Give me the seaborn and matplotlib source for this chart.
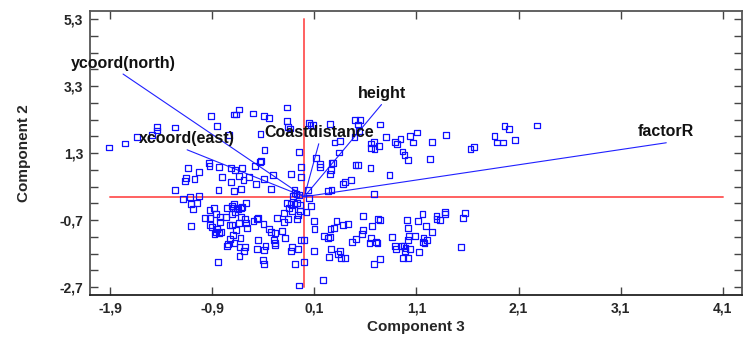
import numpy as np
import pandas as pd
import matplotlib
matplotlib.use("Agg")
import matplotlib.pyplot as plt
import seaborn as sns
from matplotlib.ticker import FixedLocator, FuncFormatter

# ---------------- data ----------------
comp3 = [
    # upper-left
    -1.917, -1.756, -1.642, -1.488, -1.439, -1.439, -1.270, -0.917, -0.854, -0.687,
    -0.665, -0.638, -0.505, -0.393, -0.344, -0.168, -0.168, -0.158, -0.142, -0.736,
    -0.429, -0.390, -0.420, -0.432, -0.485, -0.309, -0.054, -0.030, -0.132, -0.034,
    -0.936, -0.929, -0.834, -1.142, -1.034, -1.158, -1.172, -1.076, -0.717, -0.681,
    -0.606, -0.802, -0.638, -0.596, -0.540, -0.397, -0.475, -0.328, -0.721, -0.841,
    -0.691, -0.623, -1.263, -0.096, -1.030, -0.076, -0.050, -0.096,
    # lower-left
    -1.191, -1.116, -1.113, -1.050, -1.093, -1.106, -0.929, -0.883, -0.975, -0.920,
    -0.861, -0.825, -0.770, -0.822, -0.920, -0.900, -0.854, -0.861, -0.838, -0.880,
    -0.819, -0.733, -0.711, -0.760, -0.707, -0.687, -0.701, -0.658, -0.645, -0.681,
    -0.707, -0.619, -0.570, -0.606, -0.638, -0.623, -0.579, -0.574, -0.560, -0.672,
    -0.701, -0.724, -0.684, -0.750, -0.760, -0.625, -0.635, -0.583, -0.593, -0.635,
    -0.848, -0.498, -0.456, -0.462, -0.400, -0.344, -0.322, -0.289, -0.270, -0.456,
    -0.380, -0.462, -0.397, -0.299, -0.289, -0.285, -0.191, -0.214, -0.201, -0.158,
    -0.201, -0.168, -0.135, -0.096, -0.070, -0.044, -0.148, -0.119, -0.044, -0.064,
    -0.070, -0.109, -0.119, -0.132, -0.064, -0.034, -0.001, -0.093, -0.005, -0.054,
    -0.407, -0.397,
    # upper-right
    0.044, 0.061, 0.087, 0.250, 0.495, 0.544, 0.531, 0.740, 0.534, 0.296,
    0.348, 0.492, 0.799, 0.656, 0.681, 0.734, 0.656, 0.688, 0.891, 0.911,
    0.943, 1.038, 1.103, 1.064, 0.963, 0.982, 1.019, 1.250, 1.387, 1.230,
    0.117, 0.152, 0.152, 0.267, 0.279, 0.342, 0.260, 0.250, 0.502, 0.525,
    0.649, 0.835, 0.401, 0.377, 0.456, 0.234, 0.267, 0.034, 0.681, 1.629,
    1.662, 1.865, 1.891, 1.946, 1.963, 2.005, 2.068, 2.283,
    # lower-right
    0.044, 0.064, 0.022, 0.093, 0.100, 0.093, 0.181, 0.316, 0.377, 0.426,
    0.257, 0.289, 0.191, 0.230, 0.250, 0.260, 0.240, 0.332, 0.352, 0.358,
    0.397, 0.470, 0.505, 0.564, 0.577, 0.574, 0.666, 0.721, 0.740, 0.656,
    0.639, 0.701, 0.718, 0.740, 0.685, 0.862, 0.891, 0.901, 0.953, 0.973,
    0.992, 0.989, 1.034, 1.015, 1.028, 1.083, 1.009, 1.015, 1.113, 1.159,
    1.195, 1.252, 1.296, 1.296, 1.328, 1.377, 1.377, 1.574, 1.556, 1.538,
    1.123, 1.162, 1.178, 1.205, 1.169, 0.966, 1.015,
]
comp2 = [
    # upper-left
    1.470, 1.589, 1.777, 1.836, 2.074, 1.976, 2.065, 2.411, 2.104, 2.452,
    2.452, 2.601, 2.482, 2.411, 2.342, 2.661, 2.262, 2.074, 2.036, 1.836,
    1.866, 1.381, 1.071, 1.042, 0.905, 0.646, 1.330, 0.875, 0.676, 0.595,
    1.003, 0.905, 0.875, 0.845, 0.735, 0.548, 0.467, 0.536, 0.854, 0.795,
    0.863, 0.586, 0.616, 0.488, 0.595, 0.518, 0.369, 0.220, 0.438, 0.208,
    0.179, 0.220, 0.199, 0.199, 0.030, 0.071, 0.060, 0.101,
    # lower-left
    -0.077, -0.018, -0.226, -0.196, -0.375, -0.872, -0.396, -0.345, -0.625, -0.643,
    -0.524, -0.595, -0.613, -0.744, -0.833, -0.911, -0.961, -1.042, -1.071, -1.101,
    -1.042, -0.842, -0.842, -0.327, -0.268, -0.217, -0.345, -0.327, -0.375, -0.446,
    -0.506, -0.336, -0.196, -0.298, -0.792, -0.595, -0.673, -0.774, -0.932, -0.991,
    -1.149, -1.250, -1.369, -1.399, -1.467, -1.238, -1.488, -1.497, -1.607, -1.774,
    -1.943, -0.732, -0.634, -0.664, -0.821, -0.961, -1.042, -1.071, -0.625, -1.298,
    -1.458, -1.557, -1.586, -1.298, -1.387, -1.438, -1.238, -1.021, -0.762, -0.673,
    -0.485, -0.196, -0.217, -0.226, -0.179, -0.238, -0.345, -0.417, -0.417, -0.545,
    -0.655, 0.021, -1.488, -1.607, -1.565, -1.298, -1.298, -2.003, -1.943, -2.649,
    -1.893, -2.003,
    # upper-right
    2.202, 2.134, 2.134, 2.164, 2.283, 2.283, 2.155, 2.155, 1.964, 1.619,
    1.667, 1.786, 1.777, 1.589, 1.637, 1.509, 1.449, 1.411, 1.637, 1.560,
    1.717, 1.807, 1.917, 1.619, 1.351, 1.241, 1.083, 1.637, 1.836, 1.131,
    1.143, 0.973, 0.893, 1.012, 1.012, 1.321, 0.795, 0.676, 0.952, 0.935,
    0.845, 0.646, 0.446, 0.378, 0.497, 0.179, 0.199, 0.199, 0.080, 1.420,
    1.488, 1.807, 1.619, 1.619, 2.104, 2.015, 1.688, 2.125,
    # lower-right
    -0.048, -0.277, -0.464, -0.732, -0.961, -1.607, -2.479, -0.732, -0.842, -0.813,
    -0.961, -0.932, -1.179, -1.229, -1.208, -1.548, -1.804, -1.714, -1.607, -1.824,
    -1.824, -1.348, -1.250, -1.119, -0.991, -0.565, -0.872, -0.664, -0.693, -1.238,
    -1.378, -1.348, -1.378, -1.863, -2.003, -1.208, -1.467, -1.557, -1.467, -1.467,
    -1.518, -1.616, -1.557, -1.298, -1.179, -1.179, -0.693, -0.940, -0.732, -0.506,
    -0.872, -1.042, -0.583, -0.673, -0.693, -0.446, -0.515, -0.476, -0.643, -1.491,
    -1.655, -1.357, -1.387, -1.298, -1.238, -1.833, -1.833,
]

var_names = ["ycoord(north)", "xcoord(east)", "Coastdistance", "height", "factorR"]
var_comp3 = [-1.776, -1.148, 0.142, 0.757, 3.548]
var_comp2 = [3.66, 1.40, 1.58, 2.75, 1.61]

x_ticks = [-1.9, -0.9, 0.1, 1.1, 2.1, 3.1, 4.1]
y_ticks = [-2.7, -0.7, 1.3, 3.3, 5.3]

# ---------------- plot ----------------
sns.set_style("ticks")
plt.rcParams["font.family"] = ["Liberation Sans", "DejaVu Sans"]
plt.rcParams["font.weight"] = "bold"

fig = plt.figure(figsize=(7.5, 3.41), dpi=100)
ax = fig.add_axes([0.12, 0.135, 0.8693, 0.8327])

df = pd.DataFrame({"Component 3": comp3, "Component 2": comp2})

# reference axes (red) spanning the tick range
ax.plot([x_ticks[0], x_ticks[-1]], [0, 0], color="#ff6060", lw=1.4, zorder=1)
ax.plot([0, 0], [y_ticks[0], y_ticks[-1]], color="#ff6060", lw=1.4, zorder=1)

sns.scatterplot(data=df, x="Component 3", y="Component 2", ax=ax, marker="s",
                s=18, facecolor="none", edgecolor="#1010ff", linewidth=0.9,
                zorder=3, legend=False)

for name, vx, vy in zip(var_names, var_comp3, var_comp2):
    ax.plot([0, vx], [0, vy], color="#2020ff", lw=0.8, zorder=2)
    ax.annotate(name, xy=(vx, vy), xytext=(0, 2.5), textcoords="offset points",
                ha="center", va="bottom", fontsize=11.5, fontweight="bold",
                color="#111111", zorder=4)

ax.set_xlim(-2.1, 4.29)
ax.set_ylim(-2.93, 5.54)
ax.xaxis.set_major_locator(FixedLocator(x_ticks))
ax.yaxis.set_major_locator(FixedLocator(y_ticks))
ax.yaxis.set_minor_locator(FixedLocator(np.arange(-2.7, 5.31, 0.5)))
fmt = FuncFormatter(lambda v, p: f"{v:.1f}".replace(".", ","))
ax.xaxis.set_major_formatter(fmt)
ax.yaxis.set_major_formatter(fmt)

ax.tick_params(axis="both", which="both", direction="in", top=True, right=True,
               labelsize=10, color="#444444", width=1.0)
ax.tick_params(axis="both", which="major", length=6, pad=5)
ax.tick_params(axis="y", which="minor", length=6)
for lab in ax.get_xticklabels() + ax.get_yticklabels():
    lab.set_fontweight("bold")

ax.set_xlabel("Component 3", fontsize=11, fontweight="bold", labelpad=3)
ax.set_ylabel("Component 2", fontsize=11, fontweight="bold", labelpad=20)

for side, sp in ax.spines.items():
    sp.set_visible(True)
    sp.set_linewidth(1.3)
    sp.set_color("#222222" if side in ("bottom",) else "#555555")

fig.savefig("out.png", dpi=100)
